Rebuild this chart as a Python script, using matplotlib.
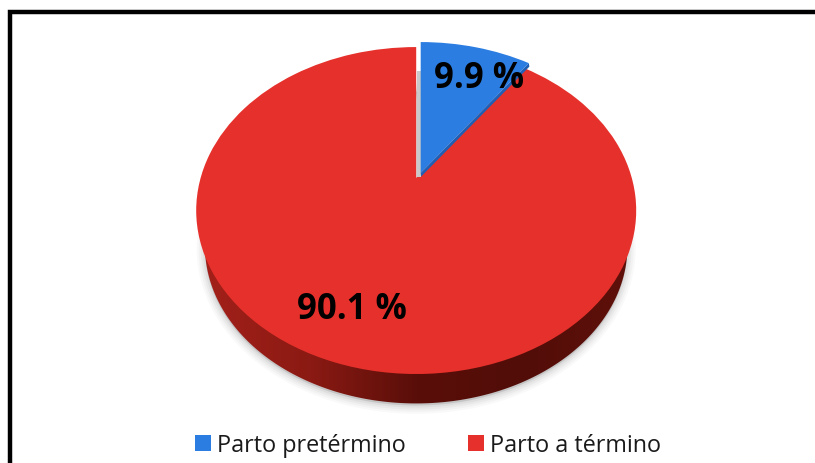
import numpy as np
import matplotlib
matplotlib.use("Agg")
from matplotlib import pyplot as plt
from matplotlib.colors import LinearSegmentedColormap
from matplotlib.patches import Polygon, Rectangle
from matplotlib.transforms import Affine2D, Transform

labels = ["Parto pretérmino", "Parto a término"]
values = [9.9, 90.1]
value_texts = ["9.9 %", "90.1 %"]
colors = ["#2b7de2", "#e6302b"]
side_colors = ["#a3201a", "#8a1a13", "#5a0e09", "#520d08", "#5f100a"]

plt.rcParams["font.family"] = ["Open Sans", "DejaVu Sans"]


# tilted pie: unit circle to pixels, with the far side squeezed
class Tilt(Transform):
    input_dims = 2
    output_dims = 2

    def transform_non_affine(self, xy):
        xy = np.asarray(xy, dtype=float)
        w = 1 + 0.199 * xy[:, 1]
        return np.column_stack((416.2 + 215.6 * xy[:, 0] / w, 179 - 157 * xy[:, 1] / w))


tilt = Tilt()

fig = plt.figure(figsize=(8.15, 4.64), dpi=100)
ax = fig.add_axes([0, 0, 1, 1])

wedges, _ = ax.pie(values, colors=colors, startangle=90, counterclock=False,
                   wedgeprops={"linewidth": 0}, frame=True)

t = np.radians(np.linspace(0, 360, 721))
rim = tilt.transform(np.column_stack((np.cos(t), np.sin(t))))
# lower rim of the wall is a bit smaller than the top face
base = (rim - [416, 211]) * 0.96 + [416, 247]

ax.set_aspect("auto")
ax.set_axis_off()

# soft shadow under the pie
for grow, alpha in zip([12, 9, 6, 3], [0.035, 0.045, 0.06, 0.08]):
    ax.add_patch(Polygon(base + [0, 2], closed=True, fc="#666666", ec="#666666", lw=grow,
                         alpha=alpha, zorder=1))

# side wall, darkest near the front
side = Polygon(base, closed=True, fc="none", ec="none")
ax.add_patch(side)
cmap = LinearSegmentedColormap.from_list("side", side_colors)
grad = ax.imshow(np.linspace(0, 1, 256)[None, :], cmap=cmap, aspect="auto",
                 extent=(205, 628, 420, 200), zorder=2)
grad.set_clip_path(side)
ax.set_xlim(0, 815)
ax.set_ylim(464, 0)

wedges[1].set_transform(tilt + ax.transData)
wedges[1].set_zorder(3)

# gray cut face beside the pulled-out slice
ax.add_patch(Rectangle((417, 72), 4, 106, fc="#c9c9c9", ec="none", zorder=3))

shift = Affine2D().translate(4.5, -5)
a = np.radians(values[0] / sum(values) * 360)
edge = tilt.transform(np.array([[0, 0], [np.sin(a), np.cos(a)]])) + [4.5, -5]
ax.add_patch(Polygon(np.vstack((edge, edge[::-1] + [0.5, 3.5])), closed=True,
                     fc="#1f5fb4", ec="none", zorder=4))
wedges[0].set_transform(tilt + shift + ax.transData)
wedges[0].set_zorder(5)

ax.text(479, 79, value_texts[0], fontsize=25, fontweight="bold", color="black",
        ha="center", va="center", zorder=6)
ax.text(351.5, 310, value_texts[1], fontsize=25, fontweight="bold", color="black",
        ha="center", va="center", zorder=6)

# black frame, cropped at the bottom and right
ax.plot([10, 10, 815], [464, 12.7, 12.7], color="black", lw=3.2,
        solid_joinstyle="miter", zorder=7)

ax.legend(wedges, labels, loc="center", bbox_to_anchor=(428 / 815, 1 - 446 / 464),
          ncols=2, frameon=False, fontsize=16.8, handlelength=0.68, handleheight=0.68,
          handletextpad=0.26, columnspacing=2.66, borderpad=0, labelcolor="#1a1a1a")

fig.savefig("out.png", dpi=100)
